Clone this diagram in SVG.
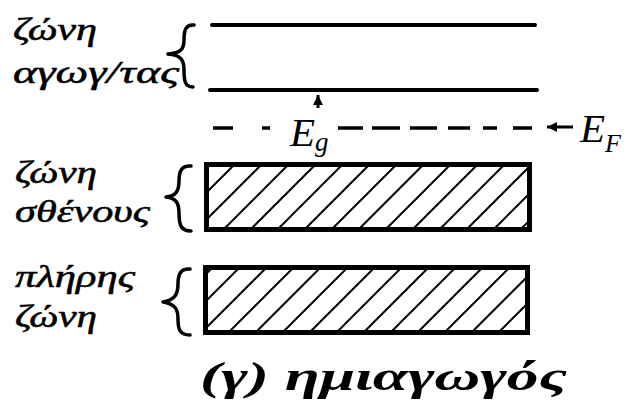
<svg xmlns="http://www.w3.org/2000/svg" width="629" height="402" viewBox="0 0 629 402">
<defs>
<style>
.t{font-family:"Liberation Serif","DejaVu Serif",serif;font-style:italic;fill:#000;}
.lbl{font-size:31px;stroke:#000;stroke-width:0.5;}
.ln{stroke:#000;stroke-width:4;fill:none;stroke-linecap:round;}
.br{stroke:#000;stroke-width:3.5;fill:none;stroke-linecap:round;stroke-linejoin:round;}
.box{stroke:#000;stroke-width:5;}
.hatch{stroke:#000;stroke-width:2;fill:none;}
.dash{stroke:#000;stroke-width:3.5;stroke-linecap:butt;}
.arr{stroke:#000;stroke-width:3;}
</style>
<pattern id="h" patternUnits="userSpaceOnUse" width="27" height="27" patternTransform="translate(210,0)">
<path class="hatch" d="M0,27 L27,0 M-3,3 L3,-3 M24,30 L30,24"/>
</pattern>
<marker id="ah" markerWidth="12" markerHeight="12" refX="10" refY="5" orient="auto" markerUnits="userSpaceOnUse">
<path d="M0,0 L10,5 L0,10 Z" fill="#000"/>
</marker>
</defs>
<rect width="629" height="402" fill="#fff"/>

<g id="conduction">
<text class="t lbl" x="13" y="40" textLength="84" lengthAdjust="spacingAndGlyphs">ζώνη</text>
<text class="t lbl" x="13" y="83" textLength="166" lengthAdjust="spacingAndGlyphs">αγωγ/τας</text>
<path class="br" d="M194,25 C186,24 184,30 184,40 C184,49 181,53 168,54 C181,55 184,60 184,70 C184,81 185,87 193,87"/>
<line class="ln" x1="212" y1="25" x2="535" y2="25"/>
<line class="ln" x1="210" y1="90" x2="537" y2="90"/>
</g>

<g id="valence">
<text class="t lbl" x="15" y="183" textLength="82" lengthAdjust="spacingAndGlyphs">ζώνη</text>
<text class="t lbl" x="15" y="222" textLength="135" lengthAdjust="spacingAndGlyphs">σθένους</text>
<path class="br" d="M191,166 C182,165 179,171 179,181 C179,191 176,196 166,197 C176,198 179,203 179,213 C179,225 181,231 191,231"/>
<rect class="box" x="206.5" y="164.5" width="323" height="65" fill="url(#h)"/>
</g>

<g id="full">
<text class="t lbl" x="15" y="287" textLength="120" lengthAdjust="spacingAndGlyphs">πλήρης</text>
<text class="t lbl" x="15" y="327" textLength="82" lengthAdjust="spacingAndGlyphs">ζώνη</text>
<path class="br" d="M190,269 C181,268 178,274 178,284 C178,294 175,300 163,302 C175,304 178,309 178,319 C178,330 180,335 190,335"/>
<rect class="box" x="205.5" y="267.5" width="322" height="65" fill="url(#h)"/>
</g>

<g id="fermi">
<path class="dash" d="M213,128 H233 M262,128 H270 M338,128 H363 M372,128 H400 M410,128 H437 M448,128 H470 M483,128 H497 M513,128 H532"/>
<text class="t" font-size="41" x="290" y="146">E<tspan font-size="27" dy="5">g</tspan></text>
<text class="t" font-size="41" x="580" y="142">E<tspan font-size="26" dy="10">F</tspan></text>
</g>

<g id="connectors">
<line class="arr" x1="318" y1="108" x2="318" y2="95" marker-end="url(#ah)"/>
<line class="arr" x1="573" y1="127" x2="547" y2="127" marker-end="url(#ah)"/>
</g>

<g id="caption">
<text class="t" font-weight="bold" font-size="41" x="200" y="390" textLength="367" lengthAdjust="spacingAndGlyphs">(γ) ημιαγωγός</text>
</g>
</svg>
